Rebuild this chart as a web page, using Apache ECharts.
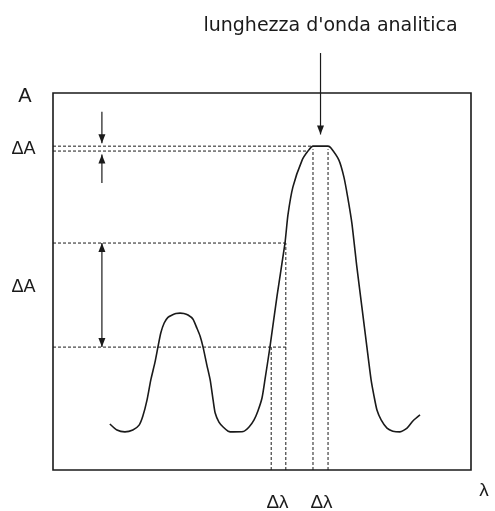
<!DOCTYPE html>
<html>
<head>
<meta charset="utf-8">
<script src="https://cdn.jsdelivr.net/npm/echarts@6/dist/echarts.min.js"></script>
<style>
  html, body { margin: 0; padding: 0; background: #ffffff; }
  #chart { width: 495px; height: 511px; }
</style>
</head>
<body>
<div id="chart"></div>
<script>
// Absorption spectrum in arbitrary units: wavelength (λ) on x, absorbance (A) on y
const lambda = [13.6, 15.3, 17.2, 19.1, 20.6, 21.5, 22.5, 23.4, 24.4, 25.1, 25.8, 26.6, 27.5, 28.5,
  29.4, 30.4, 31.3, 32.3, 33.5, 34.4, 35.2, 35.9, 36.8, 37.6, 38.3, 38.8, 39.7, 40.7, 41.9, 43.1,
  45.5, 46.9, 48.1, 49.0, 50.0, 50.7, 51.9, 53.6, 55.5, 56.2, 57.4, 59.6, 61.0, 62.2, 65.8, 66.5,
  68.4, 69.6, 70.5, 71.5, 72.7, 73.9, 75.1, 76.1, 76.8, 77.5, 78.5, 79.9, 81.3, 83.0, 84.7, 86.1, 87.8];
const absorbance = [12.2, 10.6, 10.1, 10.6, 11.9, 14.3, 18.6, 23.9, 28.6, 32.6, 36.4, 39.0, 40.5, 41.1,
  41.5, 41.6, 41.5, 41.1, 40.0, 37.7, 35.5, 32.6, 27.9, 23.9, 18.6, 15.1, 12.7, 11.4, 10.3, 10.1,
  10.2, 11.4, 13.3, 15.6, 19.1, 23.9, 32.6, 46.2, 60.2, 67.6, 75.1, 82.2, 84.6, 85.9, 85.9, 85.4,
  82.2, 77.7, 72.4, 65.5, 53.8, 43.2, 32.6, 23.9, 19.6, 15.9, 13.3, 11.1, 10.3, 10.1, 11.1, 13.0, 14.6];

// Absorbance bands (ΔA): one at the top of the analytic peak, one on its steep flank
const peakLevels = [85.9, 84.6];
const slopeLevels = [60.2, 32.6];
// Wavelength spans (Δλ) matching those bands
const slopeSpan = [52.2, 55.7];
const peakSpan = [62.2, 65.8];
// Where the lower peak line meets the rising flank
const peakLowerCross = 61.0;

// Text
const analyticLabel = "lunghezza d'onda analitica";
const yName = 'A';
const xName = 'λ';
const deltaA = 'ΔA';
const deltaL = 'Δλ';

const ink = '#1a1a1a';
const guideStyle = { color: ink, width: 1, type: [3, 2] };

const curve = lambda.map((x, i) => [x, absorbance[i]]);

// Dotted guide segments built from the band levels and spans
const guides = [
  [[0, peakLevels[0]], [peakSpan[0], peakLevels[0]]],
  [[0, peakLevels[1]], [peakLowerCross, peakLevels[1]]],
  [[0, slopeLevels[0]], [slopeSpan[1], slopeLevels[0]]],
  [[0, slopeLevels[1]], [slopeSpan[1], slopeLevels[1]]],
  [[slopeSpan[0], 0], [slopeSpan[0], slopeLevels[1]]],
  [[slopeSpan[1], 0], [slopeSpan[1], slopeLevels[0]]],
  [[peakSpan[0], 0], [peakSpan[0], peakLevels[1] + 0.5]],
  [[peakSpan[1], 0], [peakSpan[1], peakLevels[1] + 0.5]]
];

const chart = echarts.init(document.getElementById('chart'), null, { renderer: 'canvas' });

const series = [{
  type: 'line',
  data: curve,
  smooth: 0.2,
  showSymbol: false,
  silent: true,
  lineStyle: { color: ink, width: 1.6 },
  z: 5
}];
guides.forEach(seg => series.push({
  type: 'line',
  data: seg,
  showSymbol: false,
  silent: true,
  lineStyle: guideStyle,
  z: 3
}));

chart.setOption({
  animation: false,
  backgroundColor: '#ffffff',
  grid: {
    left: 53, right: 24, top: 93, bottom: 41,
    show: true, borderColor: ink, borderWidth: 1.6, backgroundColor: 'transparent'
  },
  xAxis: {
    type: 'value', min: 0, max: 100,
    axisLine: { show: false }, axisTick: { show: false },
    axisLabel: { show: false }, splitLine: { show: false }
  },
  yAxis: {
    type: 'value', min: 0, max: 100,
    axisLine: { show: false }, axisTick: { show: false },
    axisLabel: { show: false }, splitLine: { show: false }
  },
  series: series
});

// Annotations (arrows and labels) placed through the chart's own scales
const toPx = (x, y) => chart.convertToPixel({ gridIndex: 0 }, [x, y]);

function arrowHead(tip, dir) {
  // dir: +1 points down, -1 points up
  const w = 3.5, h = 9;
  return {
    type: 'polygon',
    shape: { points: [[tip[0], tip[1]], [tip[0] - w, tip[1] - dir * h], [tip[0] + w, tip[1] - dir * h]] },
    style: { fill: ink },
    silent: true
  };
}
function vLine(a, b) {
  return {
    type: 'line',
    shape: { x1: a[0], y1: a[1], x2: b[0], y2: b[1] },
    style: { stroke: ink, lineWidth: 1.2 },
    silent: true
  };
}

const arrowX = 11.7;
const analyticX = (peakSpan[0] + peakSpan[1]) / 2;

const g = [];
// ΔA at the peak: two arrows pointing at the thin band
let p1 = toPx(arrowX, 95.0), p2 = toPx(arrowX, peakLevels[0] + 0.8);
g.push(vLine(p1, p2), arrowHead(p2, 1));
p1 = toPx(arrowX, 76.1); p2 = toPx(arrowX, peakLevels[1] - 0.9);
g.push(vLine(p1, p2), arrowHead(p2, -1));
// ΔA on the flank: double-headed arrow
p1 = toPx(arrowX, slopeLevels[0]); p2 = toPx(arrowX, slopeLevels[1]);
g.push(vLine(p1, p2), arrowHead(p1, -1), arrowHead(p2, 1));
// Analytic wavelength marker above the peak
p1 = toPx(analyticX, 110.6); p2 = toPx(analyticX, 89.0);
g.push(vLine(p1, p2), arrowHead(p2, 1));

function label(text, pos, size, family) {
  return {
    type: 'text',
    x: pos[0], y: pos[1],
    style: {
      text: text, fill: ink, fontSize: size,
      fontFamily: family || 'Liberation Sans',
      align: 'center', verticalAlign: 'middle'
    },
    silent: true
  };
}
const origin = toPx(0, 0);
const topRight = toPx(100, 100);
const xTop = toPx(analyticX, 110.6);

g.push(label(analyticLabel, [330.5, xTop[1] - 27], 19, 'DejaVu Sans'));
g.push(label(yName, [origin[0] - 28, topRight[1] + 3], 20));
g.push(label(deltaA, [origin[0] - 29.5, toPx(0, (peakLevels[0] + peakLevels[1]) / 2)[1]], 18));
g.push(label(deltaA, [origin[0] - 29.5, toPx(0, 48.5)[1]], 18));
g.push(label(deltaL, [toPx((slopeSpan[0] + slopeSpan[1]) / 2, 0)[0] - 1, origin[1] + 33], 19));
g.push(label(deltaL, [toPx((peakSpan[0] + peakSpan[1]) / 2, 0)[0] + 1, origin[1] + 33], 19));
g.push(label(xName, [topRight[0] + 13, origin[1] + 21], 19));

chart.setOption({ graphic: { elements: g } });
</script>
</body>
</html>
